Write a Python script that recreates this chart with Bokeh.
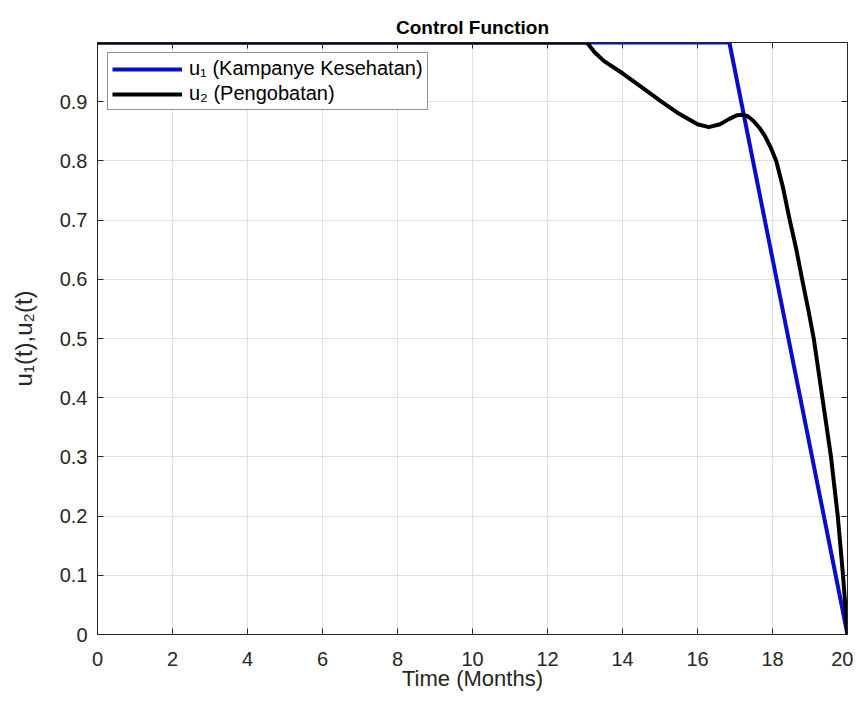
from bokeh.plotting import figure
from bokeh.models import LinearAxis, FixedTicker, Legend, LegendItem, Range1d
from bokeh.embed import file_html
from bokeh.resources import INLINE

# ---- data ----
t_u1 = [0, 16.85, 20.0]
u1 = [1.0, 1.0, 0.0]

t_u2 = [0, 13.05, 13.25, 13.5, 14.0, 14.5, 15.0, 15.5, 16.0, 16.3, 16.6, 16.85, 17.05, 17.2,
        17.35, 17.5, 17.65, 17.8, 17.95, 18.1, 18.28, 18.46, 18.63, 18.79, 18.95, 19.1,
        19.33, 19.56, 19.74, 19.88, 20.0]
u2 = [1.0, 1.0, 0.984, 0.969, 0.948, 0.925, 0.902, 0.88, 0.862, 0.857, 0.862, 0.871, 0.877, 0.878,
      0.875, 0.867, 0.856, 0.842, 0.823, 0.8, 0.755, 0.7, 0.652, 0.6, 0.55, 0.5,
      0.4, 0.3, 0.2, 0.1, 0.0]

x_ticks = [0, 2, 4, 6, 8, 10, 12, 14, 16, 18, 20]
y_ticks = [0, 0.1, 0.2, 0.3, 0.4, 0.5, 0.6, 0.7, 0.8, 0.9]
label_u1 = "u\u2081 (Kampanye Kesehatan)"
label_u2 = "u\u2082 (Pengobatan)"

FONT = "Liberation Sans"
AX = "#262626"

p = figure(frame_width=750, frame_height=592, output_backend="svg", toolbar_location=None,
           x_range=Range1d(0, 20), y_range=Range1d(0, 1),
           min_border_left=97, min_border_top=42, min_border_right=6, min_border_bottom=62,
           title="Control Function")
p.title.align = "center"
p.title.text_font = FONT
p.title.text_font_size = "19px"
p.title.text_font_style = "bold"
p.title.text_color = "#000000"
p.title.offset = 0
p.title.standoff = 10

p.outline_line_color = AX
p.outline_line_width = 1

for ax in [p.xaxis[0], p.yaxis[0]]:
    ax.axis_line_color = AX
    ax.major_tick_line_color = AX
    ax.major_tick_in = 6
    ax.major_tick_out = 0
    ax.minor_tick_line_color = None
    ax.major_label_text_font = FONT
    ax.major_label_text_font_size = "20px"
    ax.major_label_text_color = AX
    ax.axis_label_text_font = FONT
    ax.axis_label_text_font_style = "normal"
    ax.axis_label_text_color = AX

p.xaxis[0].ticker = FixedTicker(ticks=x_ticks)
p.yaxis[0].ticker = FixedTicker(ticks=y_ticks)
p.xaxis[0].axis_label = "Time (Months)"
p.yaxis[0].axis_label = "u\u2081(t),u\u2082(t)"
p.xaxis[0].axis_label_text_font_size = "22px"
p.yaxis[0].axis_label_text_font_size = "24px"
p.xaxis[0].major_label_standoff = 17
p.yaxis[0].major_label_standoff = 10
p.xaxis[0].axis_label_standoff = -3
p.yaxis[0].axis_label_standoff = 20

for loc, tk in [("above", x_ticks), ("right", y_ticks)]:
    a = LinearAxis(ticker=FixedTicker(ticks=tk), major_label_text_font_size="1px",
                   major_label_text_color=None, major_label_standoff=0,
                   axis_line_color=AX, major_tick_line_color=AX,
                   major_tick_in=6, major_tick_out=0, minor_tick_line_color=None)
    p.add_layout(a, loc)

p.xgrid.ticker = FixedTicker(ticks=x_ticks)
p.ygrid.ticker = FixedTicker(ticks=y_ticks)
p.grid.grid_line_color = "#e0e0e0"
p.grid.grid_line_width = 1

r1 = p.line(t_u1, u1, line_color="#0b0bcc", line_width=4)
r2 = p.line(t_u2, u2, line_color="#000000", line_width=4, line_join="round")

legend = Legend(items=[LegendItem(label=label_u1, renderers=[r1]),
                       LegendItem(label=label_u2, renderers=[r2])],
                location="top_left")
legend.margin = 10
legend.padding = 4
legend.spacing = 2
legend.glyph_width = 70
legend.glyph_height = 20
legend.label_height = 20
legend.label_standoff = 7
legend.label_text_font = FONT
legend.label_text_font_size = "20px"
legend.label_text_color = "#000000"
legend.border_line_color = AX
legend.border_line_width = 1
legend.background_fill_color = "white"
legend.background_fill_alpha = 1
p.add_layout(legend)

open("out.html", "w").write(file_html(p, INLINE))
